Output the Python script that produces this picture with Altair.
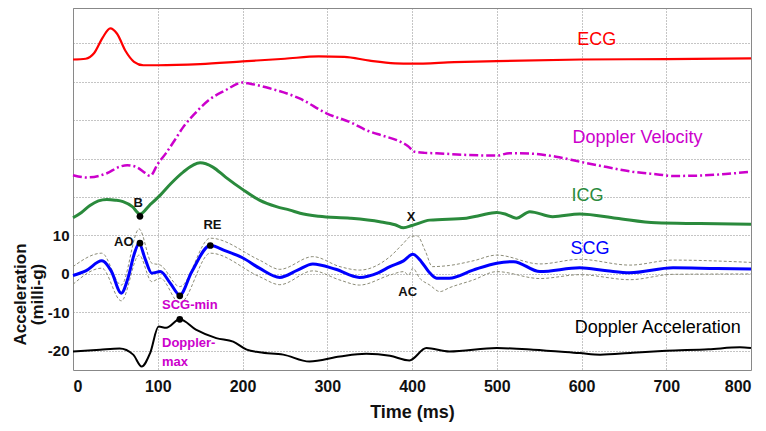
import altair as alt
import pandas as pd

# ---------------- data ----------------
ecg_t = [0, 15, 25, 35, 44, 52, 62, 72, 83, 100, 150, 200, 250, 290, 320, 350, 380, 400, 450, 500, 600, 700, 800]
ecg_v = [55.8, 56.0, 57.5, 61.5, 63.9, 62.5, 58.0, 55.2, 54.3, 54.3, 54.6, 55.3, 56.0, 56.6, 56.5, 55.5, 54.8, 54.7, 55.1, 55.4, 55.8, 55.9, 56.1]

dv_t = [0, 16, 40, 55, 64, 75, 85, 91, 100, 110, 120, 130, 142, 160, 180, 200, 209, 232, 268, 299, 330, 346, 365, 382, 395, 403, 415, 429, 460, 500, 515, 539, 570, 598, 630, 660, 690, 708, 740, 770, 800]
dv_v = [25.7, 25.1, 26.2, 27.9, 28.3, 27.8, 26.3, 25.5, 28.6, 31.5, 34.8, 38.2, 41.3, 45.2, 47.8, 49.8, 49.5, 48.3, 45.6, 41.8, 39.2, 37.4, 36.0, 34.8, 33.3, 31.8, 31.5, 31.4, 31.0, 30.8, 31.4, 31.3, 30.5, 29.2, 27.8, 26.6, 25.9, 25.5, 25.6, 26.0, 26.6]

icg_t = [0, 10, 20, 30, 40, 50, 59, 70, 79, 90, 103, 115, 130, 150, 165, 180, 200, 220, 240, 256, 268, 290, 327, 362, 380, 390, 400, 421, 464, 480, 500, 510, 523, 539, 566, 598, 641, 688, 740, 800]
icg_v = [14.6, 16.0, 17.8, 19.0, 19.4, 19.2, 18.8, 17.5, 15.6, 17.8, 20.5, 23.4, 26.5, 28.9, 27.8, 25.2, 22.0, 19.2, 17.5, 16.6, 15.8, 15.0, 14.5, 13.6, 12.8, 12.0, 12.6, 14.0, 14.5, 15.2, 16.0, 15.6, 14.5, 16.2, 14.9, 15.6, 14.5, 13.3, 13.1, 12.9]

scg_t = [0, 15, 34, 45, 57, 65, 72, 78, 85, 93, 103, 115, 126, 140, 162, 180, 200, 220, 244, 265, 283, 310, 338, 360, 374, 390, 401, 411, 420, 429, 444, 472, 500, 520, 551, 598, 630, 657, 708, 760, 800]
scg_v = [-0.4, 0.8, 3.4, 0.8, -5.0, -1.0, 5.0, 8.0, 4.0, 0.2, 0.6, -2.5, -5.5, 0.5, 7.4, 6.0, 4.2, 1.5, -0.9, 1.0, 2.6, 1.2, -0.9, 0.3, 1.9, 3.4, 5.1, 3.2, 0.5, -1.1, -1.1, 1.0, 2.8, 3.2, 0.6, 1.6, 0.8, 0.3, 1.6, 1.4, 1.3]

scg_up_t = [0, 34, 57, 78, 93, 103, 126, 162, 220, 244, 283, 315, 338, 374, 390, 398, 406, 416, 424, 444, 472, 500, 551, 598, 657, 708, 800]
scg_up_v = [1.9, 5.4, -2.9, 11.7, 2.8, 2.3, -3.3, 9.3, 3.6, 1.2, 4.5, 1.9, 1.0, 4.5, 8.0, 9.7, 9.9, 5.8, 1.9, 2.2, 3.4, 4.9, 2.6, 3.8, 2.3, 3.6, 3.0]

scg_lo_t = [0, 34, 57, 78, 93, 103, 126, 162, 220, 244, 283, 315, 338, 374, 390, 396, 401, 409, 421, 433, 444, 472, 500, 551, 598, 657, 708, 800]
scg_lo_v = [-2.7, 1.5, -7.0, 4.9, -2.0, -1.1, -7.6, 5.4, -0.7, -2.8, 0.8, -1.6, -2.9, -0.3, 0.6, -0.3, 1.5, -1.1, -2.9, -4.6, -3.6, -1.6, 0.6, -1.2, -0.2, -1.5, -0.1, 0.0]

da_t = [0, 32, 55, 71, 81, 91, 101, 110, 126, 145, 169, 189, 205, 220, 248, 279, 315, 346, 374, 397, 417, 444, 500, 543, 598, 622, 660, 700, 750, 787, 800]
da_v = [-20.2, -19.7, -19.4, -21.0, -24.1, -20.6, -13.7, -14.0, -11.8, -14.5, -16.7, -17.6, -19.7, -20.4, -21.0, -22.8, -21.5, -20.8, -21.3, -22.5, -19.3, -20.2, -19.3, -19.7, -20.6, -21.0, -20.5, -20.0, -19.6, -19.1, -19.3]

# fiducial points
pt_t = [79, 79, 162, 126, 126]
pt_v = [15.0, 8.0, 7.4, -5.7, -11.8]

# black annotations
ann_text = ["B", "AO", "RE", "X", "AC"]
ann_t = [77, 60, 164.5, 399, 395]
ann_v = [18.5, 8.4, 12.7, 14.9, -4.6]

# magenta annotations
mag_text = ["SCG-min", "Doppler-", "max"]
mag_t = [105, 105, 105]
mag_v = [-8.0, -18.0, -23.0]

# series labels
lab_text = ["ECG", "Doppler Velocity", "ICG", "SCG", "Doppler Acceleration"]
lab_t = [618, 666, 607, 610, 690]
lab_v = [60.8, 35.3, 20.3, 6.4, -14.1]
lab_col = ["#ff0000", "#cc00cc", "#2a8a3c", "#0000ff", "#000000"]

y_grid = [-20, -10, 0, 10, 20, 30, 40, 50, 60]
x_ticks = [0, 100, 200, 300, 400, 500, 600, 700, 800]

FONT = "Liberation Sans"

x_enc = alt.X(
    "t:Q",
    scale=alt.Scale(domain=[0, 800], nice=False),
    axis=alt.Axis(
        values=x_ticks, grid=True, gridColor="#8a8a8a", gridDash=[1, 2], gridWidth=1,
        ticks=False, domain=False, labelFont=FONT, labelFontWeight="bold", labelFontSize=16,
        labelColor="#111", labelPadding=8, title="Time (ms)", titleFont=FONT,
        titleFontSize=18, titleFontWeight="bold", titleColor="#111", titlePadding=9,
    ),
)
y_enc = alt.Y(
    "v:Q",
    scale=alt.Scale(domain=[-25, 69.2], nice=False, zero=False),
    axis=alt.Axis(
        values=y_grid, grid=True, gridColor="#8a8a8a", gridDash=[1, 2], gridWidth=1,
        ticks=False, domain=False, labelFont=FONT, labelFontWeight="bold", labelFontSize=15,
        labelColor="#111", labelPadding=4,
        labelExpr="datum.value <= 10 ? (datum.value < 0 ? '-' + abs(datum.value) : '' + datum.value) : ''",
        title=["Acceleration", "(milli-g)"], titleFont=FONT, titleFontSize=17,
        titleFontWeight="bold", titleColor="#111", titleAngle=-90,
        titleX=-61, titleY=286, titleAlign="center", titleBaseline="top", titleLineHeight=17,
    ),
)


def df(t, v):
    return pd.DataFrame({"t": t, "v": v})


def line(t, v, **kw):
    return alt.Chart(df(t, v)).mark_line(interpolate="monotone", **kw).encode(x=x_enc, y=y_enc)


layers = [
    line(ecg_t, ecg_v, color="#ff0000", strokeWidth=2.2),
    line(dv_t, dv_v, color="#cc00cc", strokeWidth=2.5, strokeDash=[9, 3, 2, 3]),
    line(icg_t, icg_v, color="#2a8a3c", strokeWidth=3),
    line(scg_up_t, scg_up_v, color="#8c8c78", strokeWidth=1, strokeDash=[3, 2]),
    line(scg_lo_t, scg_lo_v, color="#8c8c78", strokeWidth=1, strokeDash=[3, 2]),
    line(scg_t, scg_v, color="#0000ff", strokeWidth=3),
    line(da_t, da_v, color="#000000", strokeWidth=2),
    alt.Chart(df(pt_t, pt_v)).mark_point(filled=True, color="#000", size=45, opacity=1).encode(x=x_enc, y=y_enc),
    alt.Chart(pd.DataFrame({"t": ann_t, "v": ann_v, "s": ann_text})).mark_text(
        font=FONT, fontSize=13, fontWeight="bold", color="#111", align="center", baseline="middle"
    ).encode(x=x_enc, y=y_enc, text="s:N"),
    alt.Chart(pd.DataFrame({"t": mag_t, "v": mag_v, "s": mag_text})).mark_text(
        font=FONT, fontSize=13, fontWeight="bold", color="#cc00cc", align="left", baseline="middle"
    ).encode(x=x_enc, y=y_enc, text="s:N"),
    alt.Chart(pd.DataFrame({"t": lab_t, "v": lab_v, "s": lab_text, "c": lab_col})).mark_text(
        font=FONT, fontSize=18, align="center", baseline="middle"
    ).encode(x=x_enc, y=y_enc, text="s:N", color=alt.Color("c:N", scale=None)),
]

chart = alt.layer(*layers).properties(
    width=678, height=362,
    padding={"left": 65, "top": 0, "right": 7, "bottom": 53},
    autosize=alt.AutoSizeParams(type="none"),
    background="white",
).configure_view(stroke="#888888", strokeWidth=1)

chart.save("out.html", embed_options={"renderer": "svg", "actions": False})
